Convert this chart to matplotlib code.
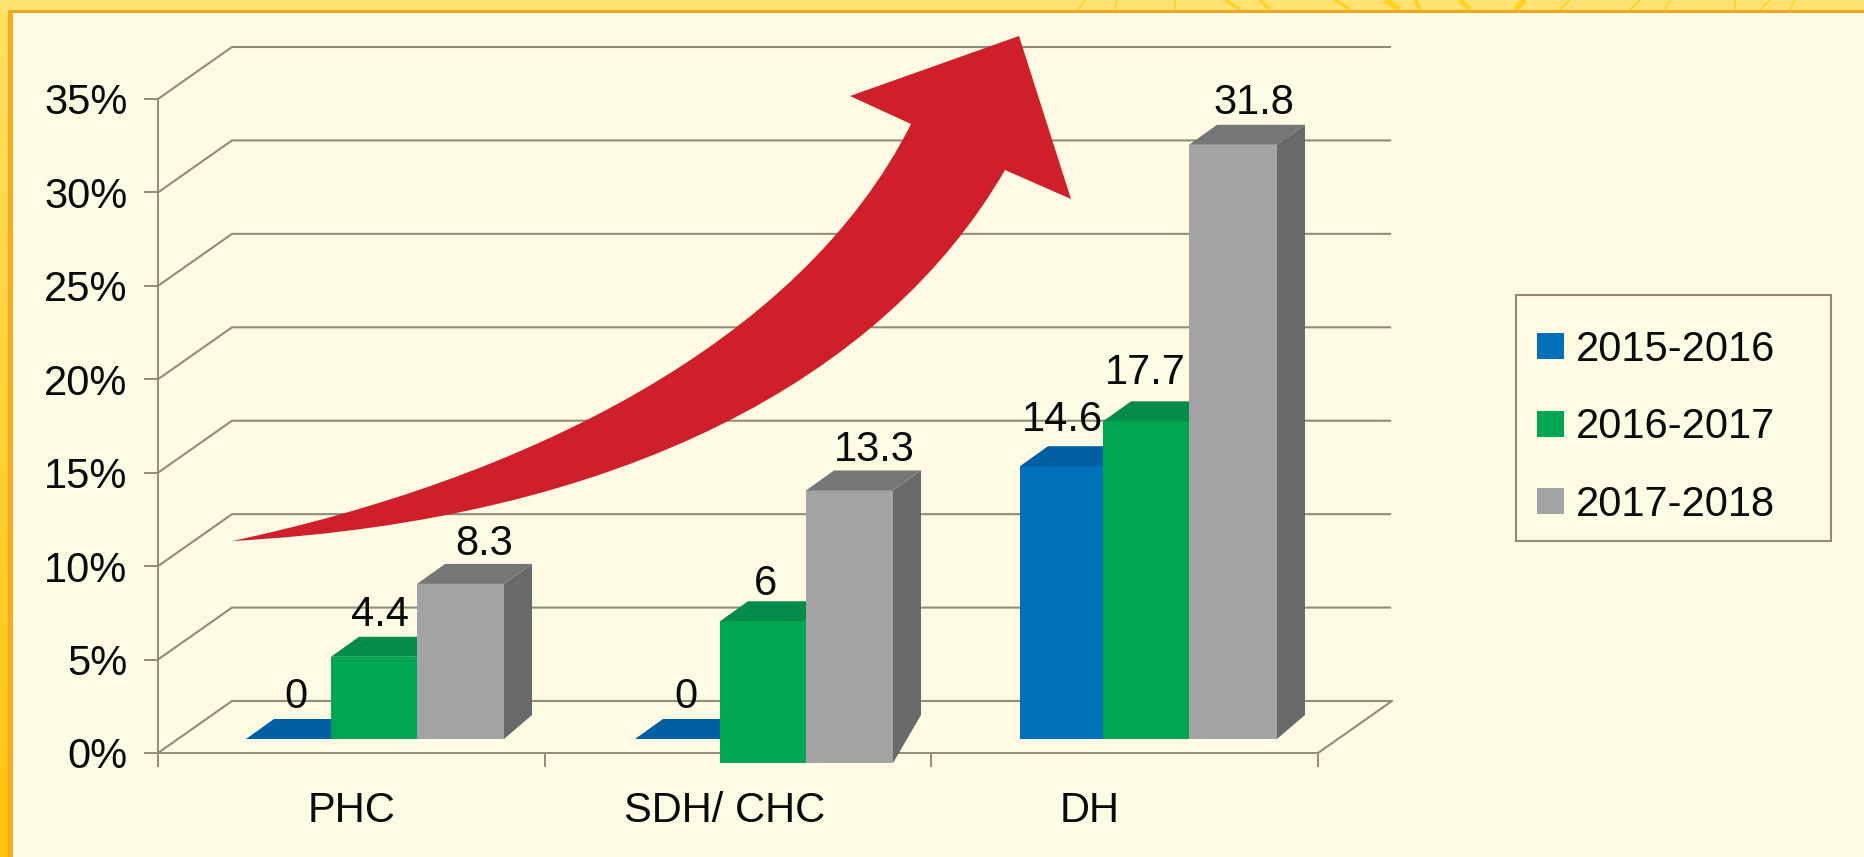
import numpy as np
import matplotlib
matplotlib.use("Agg")
import matplotlib.pyplot as plt
from matplotlib.patches import PathPatch, Rectangle, Patch
from matplotlib.path import Path

plt.rcParams['font.family'] = ['Liberation Sans', 'DejaVu Sans']

# ---------- data ----------
categories = ["PHC", "SDH/ CHC", "DH"]
series_names = ["2015-2016", "2016-2017", "2017-2018"]
values_2015 = [0, 0, 14.6]
values_2016 = [4.4, 6.0, 17.7]
values_2017 = [8.3, 13.3, 31.8]
# heights as printed in the picture (two green columns do not quite match their labels)
drawn_2015 = [0, 0, 14.6]
drawn_2016 = [4.4, 6.3, 17.0]
drawn_2017 = [8.3, 13.3, 31.8]
y_ticks = [0, 5, 10, 15, 20, 25, 30, 35]

# ---------- style / layout ----------
W, H = 1864, 857
BG = "#FFFAE3"
GRID = "#8F8C78"
face = ["#0070B8", "#00A651", "#A3A3A3"]
top_c = ["#0060A3", "#058C4A", "#767676"]
side_c = ["#00508A", "#047A40", "#696969"]
RED = "#CF1F2A"
INK = "#0A0A0A"
FS = 30

X0, X1, Y0, Y35 = 158, 1318, 753, 99
PX = (X1 - X0) / 3.0
PY = (Y0 - Y35) / 35.0
BACK_DX, BACK_DY = 74 / PX, 52 / PY
TOP_DX, TOP_DY = 28 / PX, 20 / PY
SIDE_DY = 24 / PY
FLOOR = 14 / PY
group_bars = [[88, 173, 259, 346], [477, 562, 648, 735], [862, 945, 1031, 1119]]  # px from X0
bar_bottom = [[0.75, 0.75, 0.75], [0.75, -0.535, -0.535], [0.75, 0.75, 0.75]]
label_off = [[(50, 46), (49, 46), (67, 44)],
             [(51, 46), (46, 42), (68, 45)],
             [(42, 51), (42, 53), (65, 46)]]
cat_label_x = [0.50, 1.466, 2.41]

fig = plt.figure(figsize=(W / 100, H / 100), dpi=100, facecolor=BG)

# ---------- page frame ----------
bg = fig.add_axes([0, 0, 1, 1], zorder=0)
bg.set_xlim(0, W); bg.set_ylim(H, 0); bg.axis("off")
bg.add_patch(Rectangle((0, 0), W, H, fc=BG, ec="none"))
grad = np.linspace(0, 1, 256)[:, None]
c0, c1 = np.array([255, 224, 96]) / 255, np.array([255, 194, 14]) / 255
bg.imshow((c0 + (c1 - c0) * grad)[:, None, :].reshape(256, 1, 3),
          extent=(0, 8, H, 0), aspect="auto", zorder=1)
bg.set_xlim(0, W); bg.set_ylim(H, 0)
bg.add_patch(Rectangle((8, 10), 5, H, fc="#F7AC1F", ec="none", zorder=2))
bg.add_patch(Rectangle((0, 0), W, 9.5, fc="#FFE272", ec="none", zorder=2))
bg.add_patch(Rectangle((8, 9.5), W, 3, fc="#F0A823", ec="none", zorder=3))
for xa, xb, w in [(1085, 1078, 1.5), (1117, 1115, 1.5), (1175, 1175, 1.5), (1225, 1240, 3),
                  (1260, 1270, 3), (1335, 1350, 3), (1385, 1400, 6), (1415, 1420, 4),
                  (1460, 1470, 5), (1525, 1515, 6), (1570, 1560, 2), (1640, 1630, 2),
                  (1670, 1665, 1.5), (1735, 1735, 1.5), (1770, 1760, 1.5), (1795, 1790, 1.5)]:
    bg.plot([xa, xb], [0, 9.5], color="#FFD21F", lw=w * 0.72, zorder=2.5, solid_capstyle="butt")

# ---------- main axes: front plane of the 3-D box ----------
ax = fig.add_axes([X0 / W, 1 - Y0 / H, (X1 - X0) / W, (Y0 - Y35) / H], zorder=1)
ax.patch.set_alpha(0)
ax.set_xlim(0, 3); ax.set_ylim(0, 35)
for s in ["top", "right"]:
    ax.spines[s].set_visible(False)
for s in ["left", "bottom"]:
    ax.spines[s].set_color(GRID); ax.spines[s].set_linewidth(1.4)
ax.set_yticks(y_ticks, [f"{t}%" for t in y_ticks], fontsize=FS, color=INK)
ax.set_xticks([0, 1, 2, 3], [])
ax.tick_params(axis="both", length=10, width=1.4, color=GRID, pad=12)

bdx, bdy = BACK_DX, BACK_DY
for t in y_ticks:
    ax.plot([0, bdx, 3 + bdx - 0.005], [t, t + bdy, t + bdy], color=GRID, lw=1.5,
            clip_on=False, zorder=1, solid_joinstyle="miter")
ax.plot([3, 3 + bdx], [0, bdy], color=GRID, lw=1.5, clip_on=False, zorder=1)

for g, cat in enumerate(categories):
    tops = [drawn_2015[g], drawn_2016[g], drawn_2017[g]]
    labels = [values_2015[g], values_2016[g], values_2017[g]]
    edges = [e / PX for e in group_bars[g]]
    for s in range(3):
        l, r = edges[s], edges[s + 1]
        b = bar_bottom[g][s]
        top = FLOOR + tops[s]
        if tops[s] > 0:
            ax.bar(l, top - b, width=r - l, bottom=b, align="edge", color=face[s],
                   linewidth=0, zorder=3 + s, clip_on=False)
        ax.fill([l, l + TOP_DX, r + TOP_DX, r], [top, top + TOP_DY, top + TOP_DY, top],
                color=top_c[s], lw=0, zorder=3 + s, clip_on=False)
        if s == 2:
            ax.fill([r, r + TOP_DX, r + TOP_DX, r],
                    [b, FLOOR + SIDE_DY, top + TOP_DY, top],
                    color=side_c[s], lw=0, zorder=3 + s, clip_on=False)
        dxp, dyp = label_off[g][s]
        lab = f"{labels[s]:g}"
        ax.annotate(lab, xy=(l, FLOOR + tops[s]), xytext=(dxp * 0.72, dyp * 0.72),
                    textcoords="offset points", ha="center", va="center_baseline",
                    fontsize=FS, color=INK, zorder=8, annotation_clip=False)
    ax.text(cat_label_x[g], -54 / PY, cat, ha="center", va="center_baseline",
            fontsize=FS, color=INK, clip_on=False)

# ---------- swooping arrow and legend frame (page decoration, pixel space) ----------
ov = fig.add_axes([0, 0, 1, 1], zorder=2)
ov.set_xlim(0, W); ov.set_ylim(H, 0); ov.axis("off"); ov.patch.set_alpha(0)
verts = [(232, 541),
         (520, 480), (800, 345), (911, 124),
         (850, 96), (1019, 36), (1071, 199),
         (1005, 170),
         (885, 378), (620, 520), (232, 541),
         (232, 541)]
codes = [Path.MOVETO,
         Path.CURVE4, Path.CURVE4, Path.CURVE4,
         Path.LINETO, Path.LINETO, Path.LINETO,
         Path.LINETO,
         Path.CURVE4, Path.CURVE4, Path.CURVE4,
         Path.CLOSEPOLY]
ov.add_patch(PathPatch(Path(verts, codes), fc=RED, ec="none", zorder=5))
ov.add_patch(Rectangle((1516, 294.5), 315, 246, fc="none", ec=GRID, lw=1.5, zorder=5))

handles = [Patch(fc=c, ec="none") for c in face]
leg = ov.legend(handles, series_names, loc="upper left", frameon=False, fontsize=FS,
                bbox_to_anchor=(1537 / W, 1 - 330 / H), bbox_transform=fig.transFigure,
                borderpad=0, borderaxespad=0, handlelength=0.65, handleheight=0.58,
                handletextpad=0.29, labelspacing=0.90, labelcolor=INK)

fig.savefig("out.png", dpi=100, facecolor=BG)
